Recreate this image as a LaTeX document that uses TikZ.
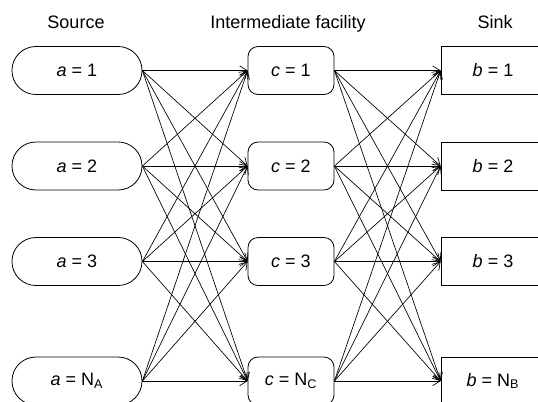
\documentclass[tikz,border=0pt]{standalone}
\usepackage{fontspec}
\setmainfont{Liberation Sans}
\usepackage{tikz}
\usetikzlibrary{arrows.meta}
\newcommand{\fasourcenode}[3] {\node at (#1) (#2) [source] {#3};}
\newcommand{\fafacilitynode}[3] {\node at (#1) (#2) [facility] {#3};}
\newcommand{\fasinknode}[3] {\node at (#1) (#2) [sink] {#3};}
\newcommand{\fatitle}[2] {\node at (#1) [anchor=base] {#2};}
\tikzset{
  source/.style={draw, rectangle, rounded corners=17.9pt, minimum width=97.5pt, minimum height=36pt, inner sep=0pt},
  facility/.style={draw, rectangle, rounded corners=7.5pt, minimum width=64.5pt, minimum height=36pt, inner sep=0pt},
  sink/.style={draw, rectangle, minimum width=90pt, minimum height=36pt, inner sep=0pt},
  flow/.style={-{Straight Barb[length=5.5pt,width=7pt]}, line width=0.5pt}
}

\begin{document}
\begin{tikzpicture}[x=0.75pt, y=-0.75pt, font=\fontsize{13.5}{16}\selectfont, line width=0.6pt]
\useasboundingbox (0,0) rectangle (538,401);

\fatitle {76,28} {Source};
\fatitle {288,28} {Intermediate facility};
\fatitle {495,28} {Sink};

\fasourcenode {77,70.5} {a1} {\textit{a} = 1};
\fasourcenode {77,166} {a2} {\textit{a} = 2};
\fasourcenode {77,261.5} {a3} {\textit{a} = 3};
\fasourcenode {77,381} {a4} {\textit{a} = N\textsubscript{A}};

\fafacilitynode {291,70.5} {c1} {\textit{c} = 1};
\fafacilitynode {291,166} {c2} {\textit{c} = 2};
\fafacilitynode {291,261.5} {c3} {\textit{c} = 3};
\fafacilitynode {291,381} {c4} {\textit{c} = N\textsubscript{C}};

\fasinknode {501,70.5} {b1} {\hspace{-12pt}\textit{b} = 1};
\fasinknode {501,166} {b2} {\hspace{-12pt}\textit{b} = 2};
\fasinknode {501,261.5} {b3} {\hspace{-12pt}\textit{b} = 3};
\fasinknode {501,381} {b4} {\hspace{-12pt}\textit{b} = N\textsubscript{B}};

\foreach \i in {1,...,4}
  \foreach \j in {1,...,4} {
    \draw [flow] (a\i.east) -- (c\j.west);
    \draw [flow] (c\i.east) -- (b\j.west);
  }

\end{tikzpicture}
\end{document}
